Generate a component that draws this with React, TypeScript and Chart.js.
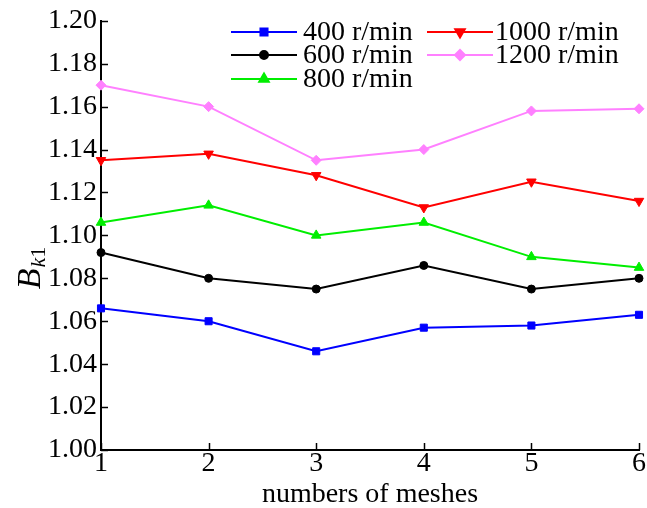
import React, { useEffect, useRef } from "react";
import { Chart, registerables } from "chart.js";
import { drawPoint } from "chart.js/helpers";

Chart.register(...registerables);

const meshes = [1, 2, 3, 4, 5, 6];
const s400 = [1.066, 1.06, 1.046, 1.057, 1.058, 1.063];
const s600 = [1.092, 1.08, 1.075, 1.086, 1.075, 1.08];
const s800 = [1.106, 1.114, 1.1, 1.106, 1.09, 1.085];
const s1000 = [1.135, 1.138, 1.128, 1.113, 1.125, 1.116];
const s1200 = [1.17, 1.16, 1.135, 1.14, 1.158, 1.159];
const seriesLabels = ["400 r/min", "600 r/min", "800 r/min", "1000 r/min", "1200 r/min"];
const yMin = 1.0;
const yMax = 1.2;
const yStep = 0.02;
const xTitle = "numbers of meshes";

const FONT = '"Liberation Serif", "Times New Roman", serif';

const styles = [
  { color: "#0000ff", pointStyle: "rect", radius: 5, rotation: 0 },
  { color: "#000000", pointStyle: "circle", radius: 4, rotation: 0 },
  { color: "#00ee00", pointStyle: "triangle", radius: 5.5, rotation: 0 },
  { color: "#ff0000", pointStyle: "triangle", radius: 5.5, rotation: 180 },
  { color: "#ff80ff", pointStyle: "rectRot", radius: 5, rotation: 0 },
];

const extrasPlugin = {
  id: "extras",
  afterDraw(chart: any) {
    const ctx = chart.ctx;
    const xs = chart.scales.x;
    const ys = chart.scales.y;
    const area = chart.chartArea;
    ctx.save();
    // inward tick marks
    ctx.strokeStyle = "#000";
    ctx.lineWidth = 1.5;
    ys.ticks.forEach((t: any) => {
      const py = Math.round(ys.getPixelForValue(t.value)) + 0.5;
      ctx.beginPath();
      ctx.moveTo(area.left, py);
      ctx.lineTo(area.left + 7, py);
      ctx.stroke();
    });
    xs.ticks.forEach((t: any) => {
      const px = Math.round(xs.getPixelForValue(t.value)) + 0.5;
      ctx.beginPath();
      ctx.moveTo(px, area.bottom);
      ctx.lineTo(px, area.bottom - 7);
      ctx.stroke();
    });
    // x title
    ctx.fillStyle = "#000";
    ctx.font = `28px ${FONT}`;
    ctx.textAlign = "center";
    ctx.textBaseline = "alphabetic";
    ctx.fillText(xTitle, (area.left + area.right) / 2, 502);
    // y title B_k1
    ctx.translate(40, 268);
    ctx.rotate(-Math.PI / 2);
    ctx.font = `italic 34px ${FONT}`;
    const wB = ctx.measureText("B").width;
    ctx.font = `italic 22px ${FONT}`;
    const wk = ctx.measureText("k").width;
    ctx.font = `22px ${FONT}`;
    const w1 = ctx.measureText("1").width;
    const total = wB + wk + w1 + 1;
    let x0 = -total / 2;
    ctx.textAlign = "left";
    ctx.font = `italic 34px ${FONT}`;
    ctx.fillText("B", x0, 0);
    x0 += wB + 1;
    ctx.font = `italic 22px ${FONT}`;
    ctx.fillText("k", x0, 5);
    x0 += wk;
    ctx.font = `22px ${FONT}`;
    ctx.fillText("1", x0, 5);
    ctx.restore();

    // legend
    ctx.save();
    const cols = [
      { x1: 231, x2: 297, tx: 303 },
      { x1: 427, x2: 493, tx: 495 },
    ];
    const rows = [32, 55, 79];
    chart.data.datasets.forEach((ds: any, i: number) => {
      const c = cols[i < 3 ? 0 : 1];
      const ry = rows[i < 3 ? i : i - 3];
      const st = styles[i];
      ctx.strokeStyle = st.color;
      ctx.fillStyle = st.color;
      ctx.lineWidth = 2;
      ctx.beginPath();
      ctx.moveTo(c.x1, ry);
      ctx.lineTo(c.x2, ry);
      ctx.stroke();
      drawPoint(ctx, { pointStyle: st.pointStyle, radius: st.radius, rotation: st.rotation, borderWidth: 1 } as any, (c.x1 + c.x2) / 2, ry);
      ctx.fillStyle = "#000";
      ctx.font = `28px ${FONT}`;
      ctx.textAlign = "left";
      ctx.textBaseline = "middle";
      ctx.fillText(ds.label, c.tx, ry + 1);
    });
    ctx.restore();
  },
};

export default function App() {
  const ref = useRef<HTMLCanvasElement | null>(null);
  useEffect(() => {
    if (!ref.current) return;
    const all = [s400, s600, s800, s1000, s1200];
    const chart = new Chart(ref.current, {
      type: "line",
      data: {
        datasets: all.map((arr, i) => ({
          label: seriesLabels[i],
          data: arr.map((v, j) => ({ x: meshes[j], y: v })),
          borderColor: styles[i].color,
          backgroundColor: styles[i].color,
          pointBackgroundColor: styles[i].color,
          pointBorderColor: styles[i].color,
          pointStyle: styles[i].pointStyle as any,
          pointRadius: styles[i].radius,
          pointRotation: styles[i].rotation,
          pointBorderWidth: 1,
          borderWidth: 2,
          tension: 0,
          fill: false,
          clip: false as any,
        })),
      },
      options: {
        responsive: false,
        animation: false,
        layout: { padding: { top: 20, right: 8, left: 0, bottom: 0 } },
        plugins: { legend: { display: false }, tooltip: { enabled: false } },
        scales: {
          x: {
            type: "linear",
            min: 1,
            max: 6,
            grid: { display: false, drawTicks: false },
            border: { display: true, color: "#000", width: 2 },
            ticks: {
              stepSize: 1,
              color: "#000",
              padding: 0,
              font: { family: FONT, size: 28, lineHeight: 1 },
            },
            afterFit: (s: any) => {
              s.height = 58;
            },
          },
          y: {
            type: "linear",
            min: yMin,
            max: yMax,
            grid: { display: false, drawTicks: false },
            border: { display: true, color: "#000", width: 2 },
            ticks: {
              stepSize: yStep,
              color: "#000",
              padding: 4,
              font: { family: FONT, size: 28 },
              callback: (v: any) => Number(v).toFixed(2),
            },
            afterFit: (s: any) => {
              s.width = 101;
            },
          },
        },
      },
      plugins: [extrasPlugin],
    });
    return () => chart.destroy();
  }, []);
  return (
    <div style={{ position: "fixed", left: 0, top: 0, width: 647, height: 508, background: "#fff" }}>
      <canvas ref={ref} width={647} height={508} style={{ display: "block" }} />
    </div>
  );
}
